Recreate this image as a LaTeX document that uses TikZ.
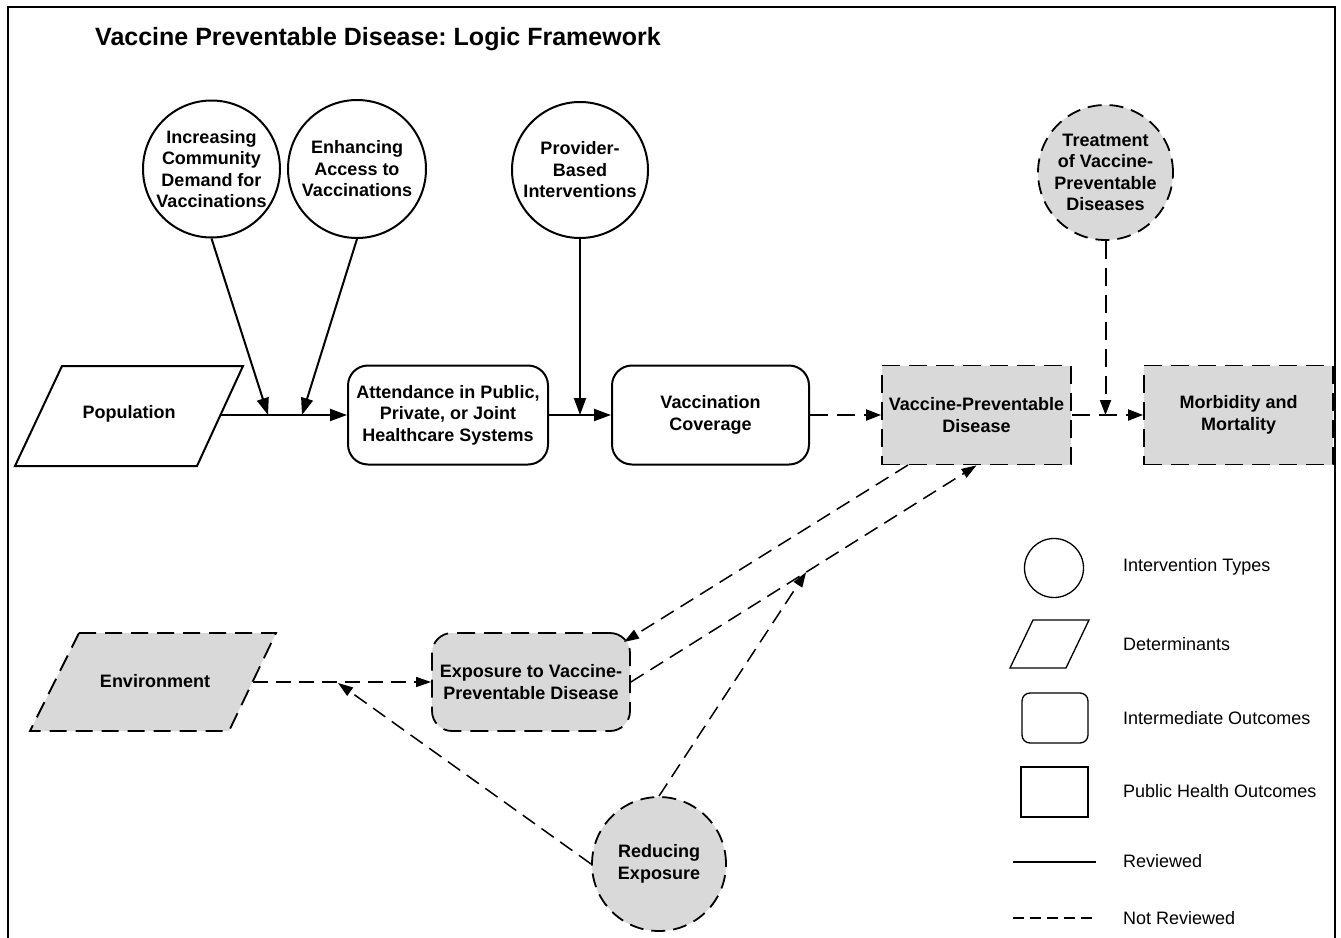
\documentclass[tikz,border=0pt]{standalone}
\usepackage{fontspec}
\setmainfont{Liberation Sans}
\usetikzlibrary{arrows.meta,calc}
\definecolor{shade}{RGB}{217,217,217}
\frenchspacing
\begin{document}
\begin{tikzpicture}[x=1pt,y=-1pt,
  txt/.style={font=\bfseries\fontsize{18}{21.5}\selectfont, align=center, inner sep=0pt},
  lgd/.style={font=\fontsize{18}{21.5}\selectfont, anchor=west, inner sep=0pt},
  solidln/.style={line width=2pt},
  dashln/.style={line width=1.8pt, dash pattern=on 17pt off 9pt},
  circ/.style={circle, draw, line width=2pt, inner sep=0pt, minimum size=#1},
  dcirc/.style={circle, draw, line width=1.8pt, dash pattern=on 14pt off 8pt, fill=shade, inner sep=0pt, minimum size=#1},
  ibox/.style={rectangle, rounded corners=20pt, draw, line width=2pt, inner sep=0pt, txt},
  dbox/.style={rectangle, draw, fill=shade, line width=1.8pt, dash pattern=on 18pt off 9pt, inner sep=0pt, txt},
  arr/.style={solidln, -{Triangle[length=17pt,width=12pt]}},
  darr/.style={line width=2pt, dash pattern=on 18pt off 9pt, -{Triangle[length=15pt,width=11pt]}},
  tdarr/.style={line width=1.5pt, dash pattern=on 15pt off 8pt, -{Triangle[length=15pt,width=10pt]}},
  thin/.style={line width=1.3pt}
]
\useasboundingbox (0,0) rectangle (1341,937);
\clip (0,0) rectangle (1341,937);

% frame
\draw[line width=2.5pt] (8,945) -- (8,7) -- (1335,7) -- (1335,945);

% title
\node[anchor=base west, font=\bfseries\fontsize{25}{30}\selectfont, inner sep=0pt] (title) at (95,45) {Vaccine Preventable Disease: Logic Framework};

% intervention circles
\node[circ=137pt] (c1) at (211.5,169) {};
\node[txt] (c1t) at (c1) {Increasing\\Community\\Demand for\\Vaccinations};
\node[circ=138pt] (c2) at (357,169) {};
\node[txt] (c2t) at (c2) {Enhancing\\Access to\\Vaccinations};
\node[circ=136pt] (c3) at (580,170) {};
\node[txt] (c3t) at (c3) {Provider-\\Based\\Interventions};
\node[dcirc=135pt] (c4) at (1105.5,172.5) {};
\node[txt] (c4t) at (c4) {Treatment\\of Vaccine-\\Preventable\\Diseases};
\node[dcirc=134pt] (red) at (659,864) {};
\node[txt] (redt) at (red) {Reducing\\Exposure};

% determinants
\draw[solidln] (62,366) -- (243,366) -- (197,466) -- (15,466) -- cycle;
\node[txt] (pop) at (129,414) {Population};
\coordinate (popE) at (220,415);
\draw[dashln, fill=shade] (79,633) -- (276,633) -- (229,731) -- (30,731) -- cycle;
\node[txt] (env) at (155,681) {Environment};
\coordinate (envE) at (253,682);

% outcome boxes
\node[ibox, minimum width=200pt, minimum height=99pt] (att) at (448,415) {Attendance in Public,\\Private, or Joint\\Healthcare Systems};
\node[ibox, minimum width=197pt, minimum height=99pt] (vc) at (710.5,415) {Vaccination\\Coverage};
\node[dbox, minimum width=189pt, minimum height=99pt] (vpd) at (976.5,415) {Vaccine-Preventable\\Disease};
\node[dbox, minimum width=189pt, minimum height=99pt] (mm) at (1238.5,415) {Morbidity and\\Mortality};
\node[dbox, rounded corners=20pt, minimum width=198pt, minimum height=98pt] (exp) at (531,682) {Exposure to Vaccine-\\Preventable Disease};

% junctions
\coordinate (j1) at (268,415);
\coordinate (j2) at (302,415);
\coordinate (j3) at (580,415);
\coordinate (j4) at (1105.5,415);
\coordinate (j5) at ($(exp.east)!0.507!(vpd.south)$);
\coordinate (j6) at (338,683);
\coordinate (vpdB) at (908,465);
\coordinate (expC) at (624,642);

% solid connectors
\draw[arr] (popE) -- (att.west);
\draw[arr] (c1.south) -- (j1);
\draw[arr] (c2.south) -- (j2);
\draw[arr] (att.east) -- (vc.west);
\draw[arr] (c3.south) -- (j3);

% dashed connectors
\draw[darr] (vc.east) -- (vpd.west);
\draw[darr] (vpd.east) -- (mm.west);
\draw[darr] (c4.south) -- (j4);
\draw[tdarr] (vpdB) -- (expC);
\draw[tdarr] (exp.east) -- (vpd.south);
\draw[tdarr] (red.north) -- (j5);
\draw[tdarr] (envE) -- (exp.west);
\draw[tdarr] (red.west) -- (j6);

% legend
\node[circle, draw, thin, minimum size=59pt, inner sep=0pt] (lg1) at (1054,568) {};
\node[lgd] (lt1) at (1123,567) {Intervention Types};
\draw[thin] (1033,620) -- (1089,620) -- (1066,668) -- (1010,668) -- cycle;
\node[lgd] (lt2) at (1123,644) {Determinants};
\node[rectangle, rounded corners=8pt, draw, thin, minimum width=66pt, minimum height=50pt] (lg3) at (1055,718) {};
\node[lgd] (lt3) at (1123,718) {Intermediate Outcomes};
\node[rectangle, draw, thin, minimum width=67pt, minimum height=50pt] (lg4) at (1054.5,792) {};
\node[lgd] (lt4) at (1123,791) {Public Health Outcomes};
\coordinate (l5a) at (1013,862);
\coordinate (l5b) at (1096,862);
\draw[thin] (l5a) -- (l5b);
\node[lgd] (lt5) at (1123,861) {Reviewed};
\coordinate (l6a) at (1013,918);
\coordinate (l6b) at (1096,918);
\draw[line width=2.8pt, dash pattern=on 11pt off 6pt] (l6a) -- (l6b);
\node[lgd] (lt6) at (1123,918) {Not Reviewed};
\end{tikzpicture}
\end{document}
